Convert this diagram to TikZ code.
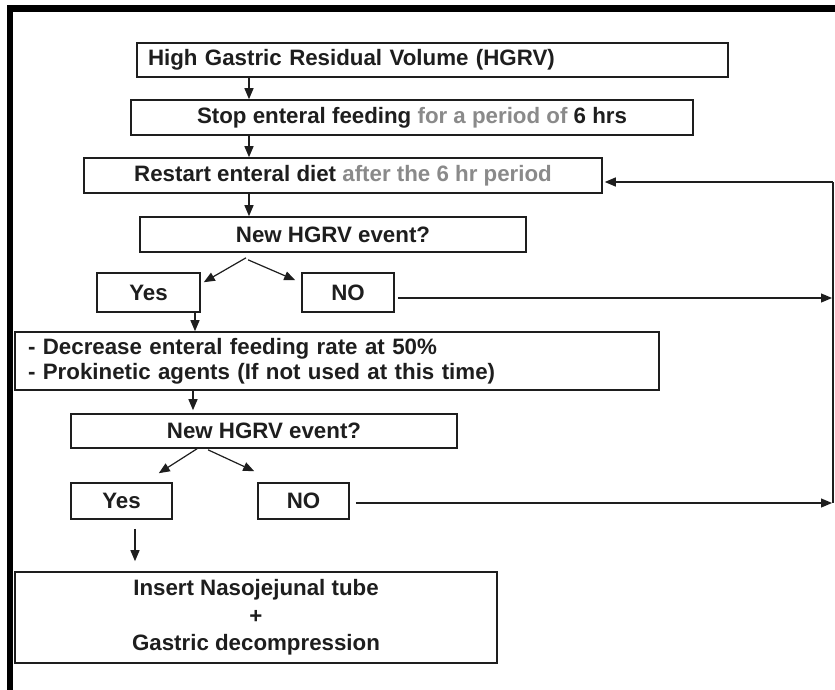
\documentclass[tikz,border=0pt]{standalone}
\usepackage{fontspec}
\setmainfont{Liberation Sans}
\usetikzlibrary{arrows.meta,calc}
\newcommand\fsz{\fontsize{22.3}{26}\selectfont}
\definecolor{ink}{HTML}{1E1E1E}
\definecolor{halftone}{HTML}{8A8A8A}
\begin{document}
\begin{tikzpicture}[x=1pt,y=-1pt,
 box/.style={draw=ink,line width=1.6pt,inner sep=0pt,font=\fsz\bfseries,text=ink},
 arr/.style={draw=ink,line width=1.2pt,-{Triangle[length=11pt,width=9pt]}},
 ln/.style={draw=ink,line width=1.2pt}]
\useasboundingbox (0,0) rectangle (835,690);
\fill[white] (0,0) rectangle (835,690);
\fill[black] (7,5) rectangle (835,12);
\fill[black] (7,5) rectangle (13,690);

% boxes
\node[box,text width=569pt,inner xsep=11pt,minimum height=34pt,align=left] (hgrv) at (432.5,60) {High Gastric Residual Volume (HGRV)};
\node[box,minimum width=562pt,minimum height=35pt] (stop) at (412,117.5) {Stop enteral feeding {\color{halftone}for a period of} 6 hrs};
\node[box,minimum width=518pt,minimum height=35pt] (restart) at (343,175.5) {Restart enteral diet {\color{halftone}after the 6 hr period}};
\node[box,minimum width=386pt,minimum height=35pt] (new1) at (333,234.5) {New HGRV event?};
\node[box,minimum width=103pt,minimum height=39pt] (yes1) at (148.5,292.5) {Yes};
\node[box,minimum width=92pt,minimum height=39pt] (no1) at (348,292.5) {NO};
\node[box,text width=618pt,inner xsep=13pt,minimum height=58pt,align=left,font=\fontsize{22.3}{25}\selectfont\bfseries] (dec) at (337,361) {- Decrease enteral feeding rate at 50\%\\- Prokinetic agents (If not used at this time)};
\node[box,minimum width=386pt,minimum height=34pt] (new2) at (264,431) {New HGRV event?};
\node[box,minimum width=101pt,minimum height=36pt] (yes2) at (121.5,501) {Yes};
\node[box,minimum width=91pt,minimum height=36pt] (no2) at (303.5,501) {NO};
\node[box,minimum width=482pt,minimum height=91pt,align=center,font=\fontsize{22.3}{27.5}\selectfont\bfseries] (ins) at (256,617.5) {Insert Nasojejunal tube\\+\\Gastric decompression};

% helper coordinates
\coordinate (xa) at (249,0);
\coordinate (xb) at (195,0);
\coordinate (xc) at (193,0);
\coordinate (xd) at (135,0);
\coordinate (rtop) at (833,182);
\coordinate (rno1) at (833,298);
\coordinate (rbot) at (833,503);

% vertical arrows
\draw[arr] (hgrv.south -| xa) -- (stop.north -| xa);
\draw[arr] (stop.south -| xa) -- (restart.north -| xa);
\draw[arr] (restart.south -| xa) -- (new1.north -| xa);
\draw[arr] (yes1.south -| xb) -- (dec.north -| xb);
\draw[arr] (dec.south -| xc) -- ($(new2.north -| xc)+(0,-3)$);
\draw[arr] ($(yes2.south -| xd)+(0,9)$) -- ($(ins.north -| xd)+(0,-10)$);

% branch arrows
\draw[arr] ($(new1.south)+(-87,5)$) -- ($(yes1.north east)+(3,10)$);
\draw[arr] ($(new1.south)+(-85,7)$) -- ($(no1.north west)+(-6,8)$);
\draw[arr] ($(new2.south)+(-67,0)$) -- ($(yes2.north east)+(-14,-9)$);
\draw[arr] ($(new2.south)+(-56,1)$) -- ($(no2.north west)+(-3,-11)$);

% NO paths and feedback loop
\draw[arr] ($(no1.east |- rno1)+(3,0)$) -- ($(rno1)+(-1,0)$);
\draw[arr] ($(no2.east |- rbot)+(6,0)$) -- ($(rbot)+(-1,0)$);
\draw[ln] (rbot) -- (rtop);
\draw[arr] (rtop) -- ($(restart.east |- rtop)+(2,0)$);
\end{tikzpicture}
\end{document}
